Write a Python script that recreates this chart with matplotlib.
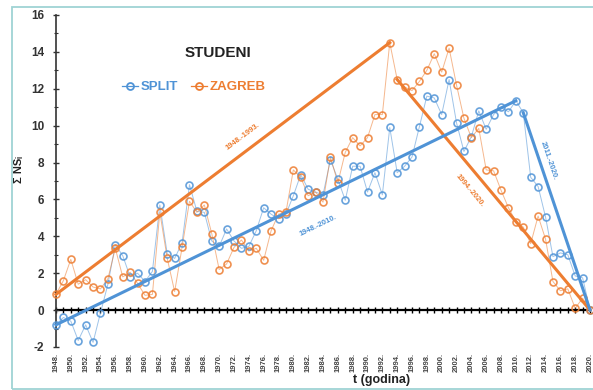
import matplotlib.pyplot as plt
import numpy as np
from matplotlib.lines import Line2D
from matplotlib.patches import Rectangle

plt.rcParams['font.family'] = ['Liberation Sans', 'DejaVu Sans']
plt.rcParams['axes.unicode_minus'] = False

# cumulative sums of normalised anomalies, November (studeni)
years = np.arange(1948, 2021)
split = [-0.8, -0.4, -0.6, -1.65, -0.8, -1.75, -0.15, 1.4, 3.55, 2.95,
         1.8, 2.0, 1.55, 2.1, 5.7, 3.05, 2.8, 3.65, 6.8, 5.35,
         5.3, 3.75, 3.45, 4.4, 3.75, 3.35, 3.45, 4.3, 5.55, 5.2,
         4.95, 5.2, 6.2, 7.35, 6.55, 6.4, 6.25, 8.15, 7.1, 5.95,
         7.8, 7.8, 6.4, 7.45, 6.25, 9.9, 7.45, 7.8, 8.3, 9.95,
         11.6, 11.5, 10.6, 12.5, 10.15, 8.6, 9.4, 10.8, 9.8, 10.6,
         11.0, 10.75, 11.35, 10.7, 7.2, 6.7, 5.05, 2.9, 3.1, 3.0,
         1.85, 1.75, 0.0]
zagreb = [0.85, 1.6, 2.75, 1.4, 1.65, 1.25, 1.15, 1.7, 3.35, 1.8,
          2.05, 1.45, 0.8, 0.85, 5.3, 2.8, 1.0, 3.4, 5.9, 5.3,
          5.7, 4.15, 2.2, 2.5, 3.4, 3.8, 3.2, 3.35, 2.7, 4.3,
          5.2, 5.3, 7.6, 7.2, 6.2, 6.4, 5.85, 8.3, 6.9, 8.55,
          9.35, 8.9, 9.35, 10.6, 10.6, 14.5, 12.5, 12.1, 11.9, 12.4,
          13.0, 13.9, 12.9, 14.2, 12.2, 10.4, 9.35, 9.85, 7.6, 7.55,
          6.5, 5.55, 4.8, 4.5, 3.6, 5.1, 3.85, 1.55, 1.05, 1.15,
          0.1, 0.65, 0.0]

# trend periods (start year, end year)
split_periods = [(1948, 2010), (2011, 2020)]
zagreb_periods = [(1948, 1993), (1994, 2020)]

BLUE = '#4f93d6'
ORANGE = '#ed7d31'

fig = plt.figure(figsize=(5.93, 3.90), dpi=100)
ax = fig.add_axes([0.0944, 0.1103, 0.9006, 0.8513])
ax.set_xlim(1948, 2020)
ax.set_ylim(-2, 16)

# outer frame
fig.patches.append(Rectangle((0.0202, 0.003), 1.0, 0.979, transform=fig.transFigure,
                             fill=False, edgecolor='#9fd3d4', lw=1.3))

# zero line with yearly ticks
ax.plot(years, np.zeros(len(years)), color='black', lw=1.6, marker='|', ms=4,
        mew=1.0, zorder=1, clip_on=False)

for vals, col in [(split, BLUE), (zagreb, ORANGE)]:
    ax.plot(years, vals, color=col, lw=0.7, alpha=0.55, zorder=2, clip_on=False)
    ax.plot(years, vals, 'o', mfc='none', mec=col, ms=5, mew=1.2, alpha=0.85,
            zorder=3, clip_on=False)


def value_at(vals, yr):
    return vals[int(yr - years[0])]


def line_angle(x0, y0, x1, y1):
    p0 = ax.transData.transform((x0, y0))
    p1 = ax.transData.transform((x1, y1))
    return np.degrees(np.arctan2(p1[1] - p0[1], p1[0] - p0[0]))


# trend lines and their period labels (label position in data coords)
trend_specs = [
    (zagreb, zagreb_periods[0], ORANGE, (1973.2, 9.4)),
    (zagreb, zagreb_periods[1], ORANGE, (2003.8, 6.5)),
    (split, split_periods[0], BLUE, (1983.3, 4.6)),
    (split, split_periods[1], BLUE, (2014.4, 8.1)),
]
for vals, (a, b), col, (tx, ty) in trend_specs:
    y0, y1 = value_at(vals, a), value_at(vals, b)
    ax.plot([a, b], [y0, y1], color=col, lw=2.2, zorder=4, clip_on=False)
    ang = line_angle(a, y0, b, y1)
    ax.text(tx, ty, f'{a}.-{b}.', color=col, fontsize=5.5, fontweight='bold',
            rotation=ang, rotation_mode='anchor', ha='center', va='center')

# axes styling
for s in ['top', 'right', 'bottom']:
    ax.spines[s].set_visible(False)
ax.spines['left'].set_color('#333333')
ax.spines['left'].set_linewidth(1.2)

ax.set_yticks(np.arange(-2, 17, 2))
ax.set_yticks(np.arange(-1, 16, 2), minor=True)
ax.tick_params(axis='y', which='major', direction='inout', length=5, width=1,
               labelsize=8.5, pad=6, colors='#333333')
ax.tick_params(axis='y', which='minor', direction='inout', length=3, width=0.8,
               colors='#333333')
for lbl in ax.get_yticklabels():
    lbl.set_fontweight('bold')

xt = years[::2]
ax.set_xticks(xt)
ax.set_xticklabels([f'{y}.' for y in xt], rotation=90, fontsize=5.5,
                   fontweight='bold', color='#444444')
ax.tick_params(axis='x', length=0, pad=4)

ax.set_xlabel('t (godina)', fontsize=9, fontweight='bold', color='#222222')
ax.xaxis.set_label_coords(0.609, -0.082)
ax.set_ylabel('Σ NSᵢ', fontsize=8, fontweight='bold', color='#222222')
ax.yaxis.set_label_coords(-0.06, 0.533)

ax.text(0.303, 0.886, 'STUDENI', transform=ax.transAxes, fontsize=11,
        fontweight='bold', ha='center', va='center', color='#222222')

handles = [Line2D([], [], color=BLUE, lw=0.9, marker='o', mfc='none', mew=1.3, ms=5),
           Line2D([], [], color=ORANGE, lw=0.9, marker='o', mfc='none', mew=1.3, ms=5)]
leg = ax.legend(handles, ['SPLIT', 'ZAGREB'], loc='center left',
                bbox_to_anchor=(0.102, 0.783), ncol=2, frameon=False,
                handlelength=1.2, handletextpad=0.2, columnspacing=1.0,
                prop={'size': 9.5, 'weight': 'bold'}, labelcolor='linecolor')

fig.savefig('out.png', dpi=100)
